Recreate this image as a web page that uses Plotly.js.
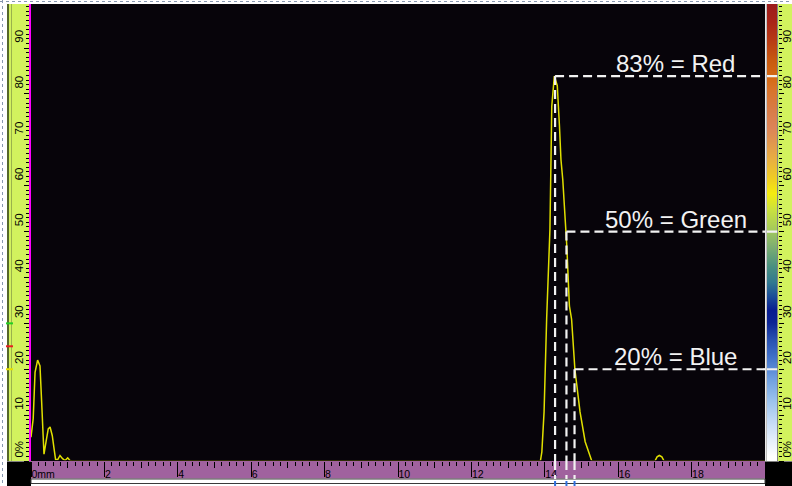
<!DOCTYPE html>
<html><head><meta charset="utf-8">
<script src="https://cdn.plot.ly/plotly-3.0.1.min.js"></script>
<style>html,body{margin:0;padding:0;background:#fff;}#chart{width:792px;height:486px;}</style>
</head><body><div id="chart"></div>
<script>
// A-scan: sound path (mm) vs amplitude (% full screen height)
const scanX = [0, 0.06, 0.11, 0.18, 0.245, 0.27, 0.29, 0.335, 0.354, 0.41, 0.47, 0.52, 0.58, 0.63, 0.67, 0.73, 0.79, 0.86, 0.93, 1.0, 1.06, 1.12,
  13.88, 13.92, 13.98, 14.05, 14.08, 14.14, 14.17, 14.19, 14.26, 14.34, 14.40, 14.44, 14.49, 14.60, 14.67, 14.73, 14.82, 14.96, 15.10, 15.28,
  17.0, 17.06, 17.12, 17.19, 17.25, 20];
const scanAmp = [5.2, 9.2, 19.3, 22.0, 20.7, 17.2, 12.9, 4.8, 1.5, 4.2, 7.0, 7.4, 5.5, 2.6, 0.3, 0.3, 1.2, 0.5, 0.1, 0.7, 0.1, 0,
  0, 2.0, 10.7, 30.9, 38.1, 50.5, 66.4, 77.3, 83.9, 81.8, 72.9, 65.7, 61.3, 46.8, 33.8, 30.9, 20.0, 10.7, 4.2, 0,
  0, 0.9, 1.2, 0.9, 0, 0];
const gateLabels = ["83% = Red", "50% = Green", "20% = Blue"];
const gateLevels = [83.9, 50, 20];
const gateStart = [14.28, 14.59, 14.81];
const markLevels = [30, 25, 20];
const markColors = ["#22d022", "#e82020", "#e8e000"];
const xTickVals = [0, 2, 4, 6, 8, 10, 12, 14, 16, 18];
const xTickText = ["0mm", "2", "4", "6", "8", "10", "12", "14", "16", "18"];
const xMidTicks = [1, 3, 5, 7, 9, 11, 13, 15, 17, 19];
const yTickVals = [0, 10, 20, 30, 40, 50, 60, 70, 80, 90];
const yTickText = ["0%", "10", "20", "30", "40", "50", "60", "70", "80", "90"];
// amplitude colour palette (percent level -> colour)
const cbStops = [0, 1, 4.8, 9.2, 13.5, 17.9, 22.9, 26.5, 30.2, 33, 36, 39, 42.4, 47, 51.1, 54.8, 58.5, 61.3, 65.7, 70, 72.9, 76.5, 80.9, 83.7, 87.4, 91.8, 96, 99.6];
const cbColors = ["#ffffff", "#ffffff", "#e4eefa", "#c0d8f4", "#98c0ec", "#70a0e0", "#4070c8", "#2850b0", "#0c2494", "#081c90", "#1a4c98", "#307890", "#4a9080", "#80b070", "#a8cc58", "#c8e040", "#f4ec10", "#f0d020", "#e8b040", "#e09450", "#dc8458", "#d87c48", "#d8742c", "#d46a14", "#c85a10", "#b83a14", "#a82418", "#9c1c1c"];

const xRange = [0, 20];
const yRange = [0, 99.6];

// layout geometry helpers (decoration only)
const W = 792, H = 486, ML = 31, MR = 14, MT = 4, MB = 25;
const PW = W - ML - MR, PH = H - MT - MB;
const px = v => (v - ML) / PW;
const py = v => (H - MB - v) / PH;

const panel = '#d2f25e', ink = '#000000', font = 'Liberation Sans, Arial, sans-serif';
const shapes = [];
const rect = (x0, x1, y0, y1, fill, layer, line) => shapes.push({type: 'rect', xref: 'paper', yref: 'paper', x0: px(x0), x1: px(x1), y0: py(y1), y1: py(y0), fillcolor: fill, line: line || {width: 0}, layer: layer || 'below'});
const vline = (x, y0, y1, color, w, layer) => shapes.push({type: 'line', xref: 'paper', yref: 'paper', x0: px(x), x1: px(x), y0: py(y0), y1: py(y1), line: {color: color, width: w}, layer: layer || 'below'});

rect(7, 30, 4, 461, panel);
vline(8, 4, 461, '#56682a', 2);
vline(11.5, 4, 461, '#9ab24c', 1);
rect(778, 792, 4, 461, panel);
rect(7, 31, 461.5, 486, '#000000');
rect(765, 792, 461.5, 486, '#000000');
rect(31, 765, 461, 478.5, '#a0629e');
rect(31, 765, 479, 483.5, '#ffffff', 'below', {color: '#3a3a3a', width: 1});
// top dotted frame
shapes.push({type: 'line', xref: 'paper', yref: 'paper', x0: px(0), x1: px(792), y0: py(1.5), y1: py(1.5), line: {color: '#8898b0', width: 1, dash: 'dot'}, layer: 'below'});
shapes.push({type: 'line', xref: 'paper', yref: 'paper', x0: px(2.5), x1: px(2.5), y0: py(0), y1: py(486), line: {color: '#8898b0', width: 1, dash: 'dot'}, layer: 'below'});
// hide zero baseline
rect(31, 765, 460.2, 461, '#07040a', 'above');
// colour strip border
vline(766.3, 4, 461, '#b8b8b8', 1.2, 'above');

// gates
const dash = {color: '#f2f2f2', width: 2.2, dash: '9px,5px'};
gateLevels.forEach((lv, i) => {
  shapes.push({type: 'line', xref: 'x', yref: 'y', x0: gateStart[i], x1: xRange[1], y0: lv, y1: lv, line: dash, layer: 'above'});
  shapes.push({type: 'line', xref: 'x3', yref: 'y', x0: -0.5, x1: 0.5, y0: lv, y1: lv, line: {color: '#f2f2f2', width: 2.2}, layer: 'above'});
  shapes.push({type: 'line', xref: 'x', yref: 'y', x0: gateStart[i], x1: gateStart[i], y0: lv, y1: 0, line: dash, layer: 'above'});
  shapes.push({type: 'line', xref: 'x', yref: 'paper', x0: gateStart[i], x1: gateStart[i], y0: 0, y1: py(479), line: dash, layer: 'above'});
  shapes.push({type: 'line', xref: 'x', yref: 'paper', x0: gateStart[i], x1: gateStart[i], y0: py(481), y1: py(486), line: {color: '#3070e0', width: 2}, layer: 'above'});
});
markLevels.forEach((lv, i) => {
  shapes.push({type: 'line', xref: 'paper', yref: 'y', x0: px(6), x1: px(13), y0: lv, y1: lv, line: {color: markColors[i], width: 2}, layer: 'above'});
});

const annotations = gateLabels.map((t, i) => ({
  xref: 'x', yref: 'y', x: 17.57, y: gateLevels[i], text: t, showarrow: false,
  xanchor: 'center', yanchor: 'bottom', yshift: -3,
  font: {family: font, size: 24, color: '#f2f2f2'}
}));

const colorscale = cbStops.map((s, i) => [(s - cbStops[0]) / (cbStops[cbStops.length - 1] - cbStops[0]), cbColors[i]]);

const traces = [
  {type: 'scatter', mode: 'lines', x: scanX, y: scanAmp, line: {color: '#e0e000', width: 1.5}, hoverinfo: 'skip'},
  {type: 'heatmap', xaxis: 'x3', yaxis: 'y', x: [-0.5, 0.5], y: cbStops, z: cbStops.map(s => [s, s]),
   colorscale: colorscale, zmin: cbStops[0], zmax: cbStops[cbStops.length - 1], zsmooth: 'best', showscale: false, hoverinfo: 'skip'},
  {type: 'scatter', mode: 'markers', x: [0], y: [-50], xaxis: 'x4', yaxis: 'y2', hoverinfo: 'skip', marker: {size: 1, color: 'rgba(0,0,0,0)'}}
];

const yTickStyle = {
  range: yRange, showgrid: false, zeroline: false, fixedrange: true,
  ticks: 'outside', ticklen: 5, tickwidth: 1, tickcolor: ink,
  tickmode: 'array', tickvals: yTickVals, ticktext: yTickText, tickangle: -90, ticklabelshift: -10,
  tickfont: {family: font, size: 11.5, color: ink},
  minor: {dtick: 1, ticklen: 3, ticks: 'outside', tickcolor: ink, tickwidth: 1, showgrid: false}
};

const xDomain = [0, (765 - ML) / PW];
const layout = {
  width: W, height: H, margin: {l: ML, r: MR, t: MT, b: MB, pad: 0},
  paper_bgcolor: '#ffffff', plot_bgcolor: '#07040a', showlegend: false, hovermode: false,
  xaxis: {domain: xDomain, range: xRange, showgrid: false, zeroline: false, showline: false, fixedrange: true,
    ticks: 'outside', ticklen: 15, tickwidth: 1, tickcolor: ink, tickmode: 'array', tickvals: xTickVals, ticktext: xTickText,
    ticklabelposition: 'outside right', ticklabelstandoff: 3, tickfont: {family: font, size: 10.5, color: ink},
    minor: {dtick: 0.2, ticklen: 4, ticks: 'outside', tickcolor: ink, tickwidth: 1, showgrid: false}},
  xaxis3: {domain: [px(767), px(777.5)], anchor: 'y', range: [-0.5, 0.5], visible: false, fixedrange: true},
  xaxis4: {overlaying: 'x', anchor: 'y', side: 'bottom', range: xRange, showgrid: false, zeroline: false, showline: false, fixedrange: true,
    ticks: 'outside', ticklen: 6, tickwidth: 1, tickcolor: ink, tickmode: 'array', tickvals: xMidTicks, showticklabels: false},
  yaxis: Object.assign({}, yTickStyle, {showline: true, linecolor: '#ff00ff', linewidth: 2, ticklabelstandoff: -4}),
  yaxis2: Object.assign({}, yTickStyle, {overlaying: 'y', side: 'right', anchor: 'free', position: 1, showline: false, ticklabelstandoff: -7}),
  shapes: shapes, annotations: annotations
};

Plotly.newPlot('chart', traces, layout, {displayModeBar: false, staticPlot: true});
</script></body></html>
